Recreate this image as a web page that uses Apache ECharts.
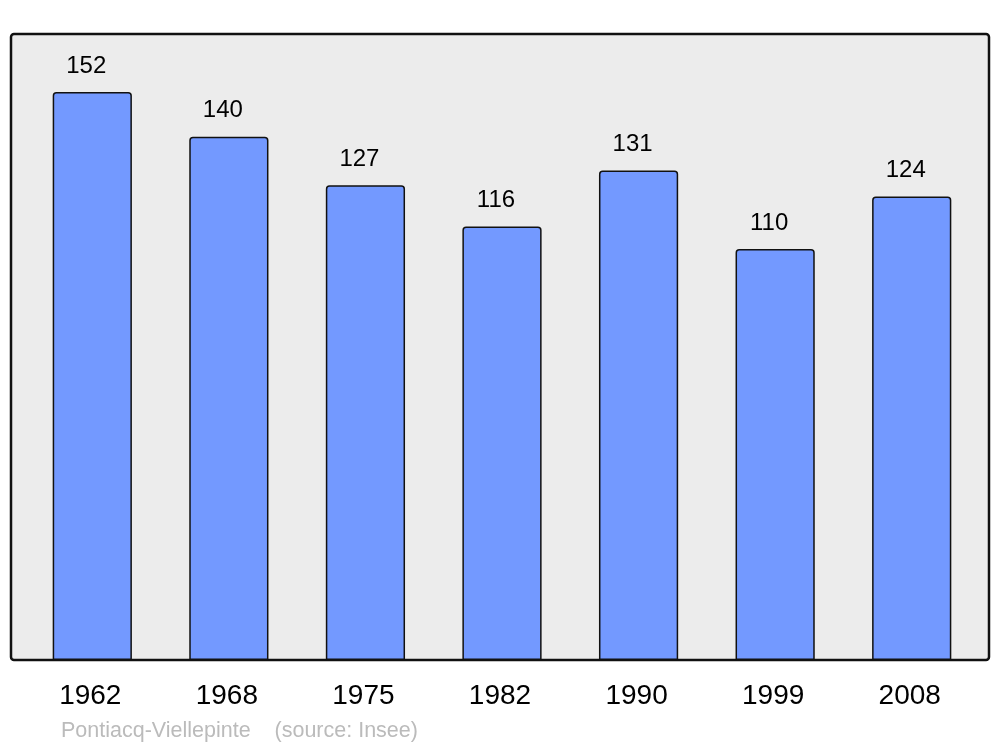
<!DOCTYPE html>
<html><head><meta charset="utf-8">
<script src="https://cdn.jsdelivr.net/npm/echarts@6/dist/echarts.min.js"></script>
<style>html,body{margin:0;padding:0;background:#fff}#c{width:1000px;height:747px}</style>
</head><body><div id="c"></div>
<script>
const years = ['1962','1968','1975','1982','1990','1999','2008'];
const population = [152,140,127,116,131,110,124];
const footer = 'Pontiacq-Viellepinte    (source: Insee)';

const chart = echarts.init(document.getElementById('c'), null, {renderer:'canvas'});
chart.setOption({
  animation:false,
  textStyle:{fontFamily:'Liberation Sans, Arial, sans-serif'},
  graphic:[
    {type:'rect', z:-10, shape:{x:11,y:34,width:978,height:626,r:3},
     style:{fill:'#ececec', stroke:'#111', lineWidth:2.5}},
    {type:'text', left:61, top:720, style:{text:footer, fill:'#bbbbbb', font:'21.5px "Liberation Sans", Arial, sans-serif'}}
  ],
  grid:{left:24, right:20, top:34, bottom:87},
  xAxis:{type:'category', data:years,
    axisLine:{show:false}, axisTick:{show:false},
    axisLabel:{fontSize:28, color:'#000', margin:22, padding:[0,4,0,0], fontFamily:'Liberation Sans'}},
  yAxis:{type:'value', min:0, max:167.5, show:false, splitLine:{show:false}},
  series:[{type:'bar', data:population, barWidth:'58%',
    itemStyle:{color:'#7399ff', borderColor:'#111', borderWidth:1.5, borderRadius:[3,3,0,0]},
    label:{show:true, position:'top', distance:14, offset:[-6,0], fontSize:24, color:'#000', fontFamily:'Liberation Sans'}}]
});
</script></body></html>
